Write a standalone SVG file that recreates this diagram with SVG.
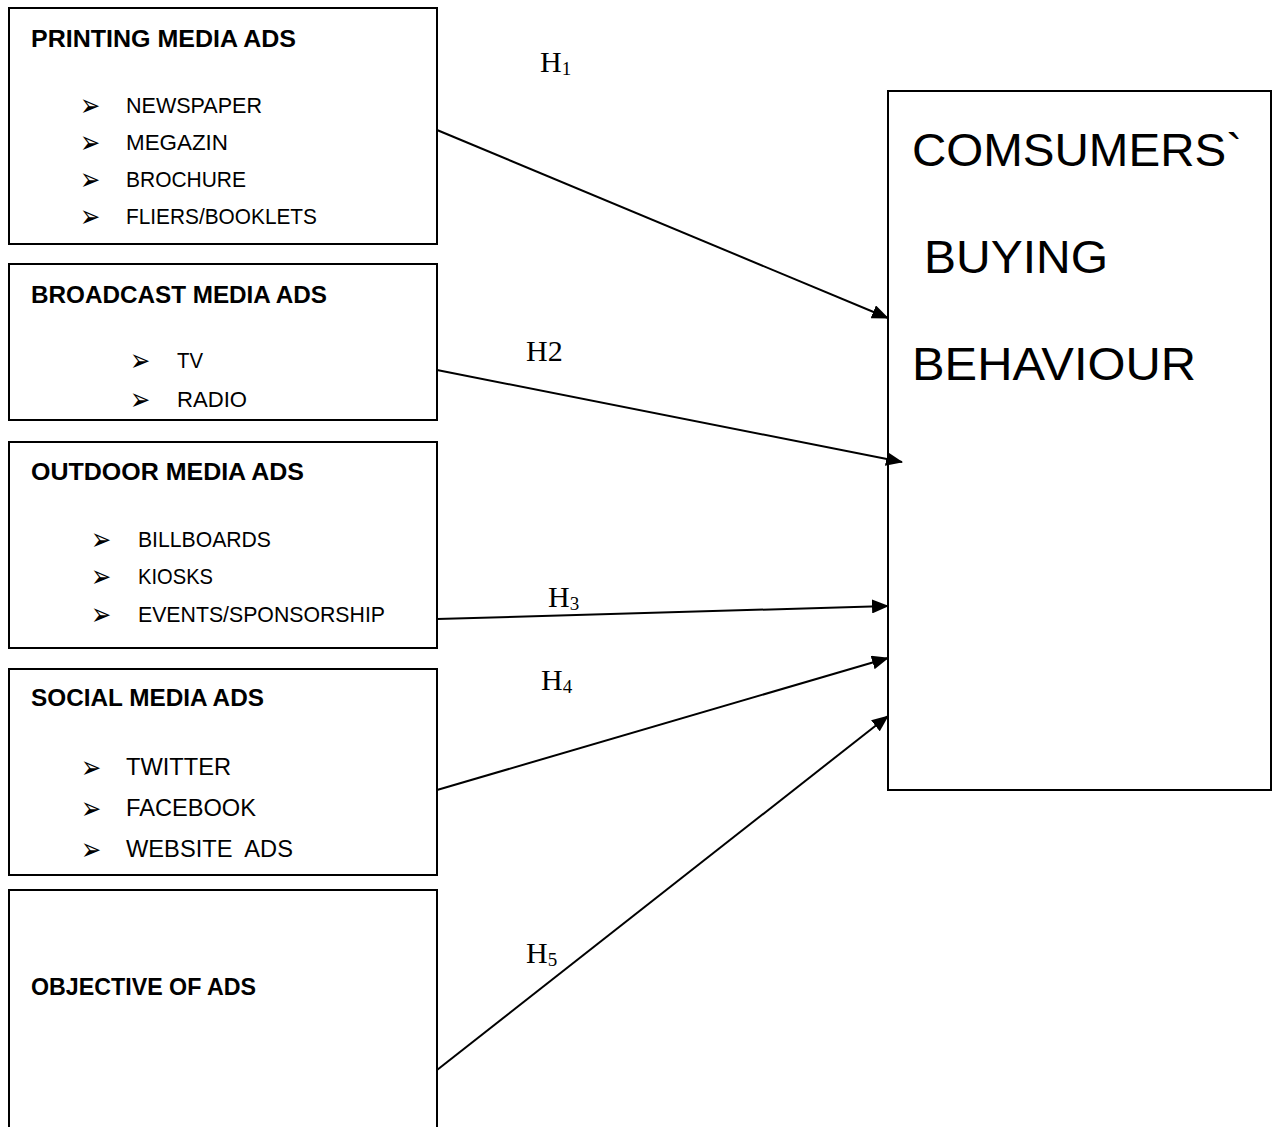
<svg xmlns="http://www.w3.org/2000/svg" width="1278" height="1127" viewBox="0 0 1278 1127">
<defs>
<marker id="ah" markerUnits="userSpaceOnUse" markerWidth="18" markerHeight="14" refX="16" refY="7" orient="auto">
<path d="M0,0 L17,7 L0,14 Z" fill="#000"/>
</marker>
<style>
.box{fill:#fff;stroke:#000;stroke-width:2}
.t{font-family:"Liberation Sans",Arial,sans-serif;font-weight:bold;font-size:24px;fill:#000}
.i{font-family:"Liberation Sans",Arial,sans-serif;font-size:21.5px;fill:#000}
.i2{font-family:"Liberation Sans",Arial,sans-serif;font-size:23px;fill:#000}
.b{font-family:"DejaVu Sans",sans-serif;font-size:21px;fill:#000}
.big{font-family:"Liberation Sans",Arial,sans-serif;font-size:46px;fill:#000}
.h{font-family:"Liberation Serif","Times New Roman",serif;font-size:30px;fill:#000}
.c{stroke:#000;stroke-width:2;fill:none;marker-end:url(#ah)}
</style>
</defs>
<rect width="1278" height="1127" fill="#fff"/>
<g id="printing">
<rect class="box" x="9" y="8" width="428" height="236"/>
<text class="t" x="31" y="47" textLength="265" lengthAdjust="spacingAndGlyphs">PRINTING MEDIA ADS</text>
<text class="b" transform="translate(80,116) scale(1.15,1.5)">➢</text><text class="i" x="126" y="113" textLength="136" lengthAdjust="spacingAndGlyphs">NEWSPAPER</text>
<text class="b" transform="translate(80,153) scale(1.15,1.5)">➢</text><text class="i" x="126" y="150" textLength="102" lengthAdjust="spacingAndGlyphs">MEGAZIN</text>
<text class="b" transform="translate(80,190) scale(1.15,1.5)">➢</text><text class="i" x="126" y="187" textLength="120" lengthAdjust="spacingAndGlyphs">BROCHURE</text>
<text class="b" transform="translate(80,227) scale(1.15,1.5)">➢</text><text class="i" x="126" y="224" textLength="191" lengthAdjust="spacingAndGlyphs">FLIERS/BOOKLETS</text>
</g>
<g id="broadcast">
<rect class="box" x="9" y="264" width="428" height="156"/>
<text class="t" x="31" y="303" textLength="296" lengthAdjust="spacingAndGlyphs">BROADCAST MEDIA ADS</text>
<text class="b" transform="translate(130,371) scale(1.15,1.5)">➢</text><text class="i" x="177" y="368" textLength="26" lengthAdjust="spacingAndGlyphs">TV</text>
<text class="b" transform="translate(130,410) scale(1.15,1.5)">➢</text><text class="i" x="177" y="407" textLength="70" lengthAdjust="spacingAndGlyphs">RADIO</text>
</g>
<g id="outdoor">
<rect class="box" x="9" y="442" width="428" height="206"/>
<text class="t" x="31" y="480" textLength="273" lengthAdjust="spacingAndGlyphs">OUTDOOR MEDIA ADS</text>
<text class="b" transform="translate(91,550) scale(1.15,1.5)">➢</text><text class="i" x="138" y="547" textLength="133" lengthAdjust="spacingAndGlyphs">BILLBOARDS</text>
<text class="b" transform="translate(91,587) scale(1.15,1.5)">➢</text><text class="i" x="138" y="584" textLength="75" lengthAdjust="spacingAndGlyphs">KIOSKS</text>
<text class="b" transform="translate(91,625) scale(1.15,1.5)">➢</text><text class="i" x="138" y="622" textLength="247" lengthAdjust="spacingAndGlyphs">EVENTS/SPONSORSHIP</text>
</g>
<g id="social">
<rect class="box" x="9" y="669" width="428" height="206"/>
<text class="t" x="31" y="706" textLength="233" lengthAdjust="spacingAndGlyphs">SOCIAL MEDIA ADS</text>
<text class="b" transform="translate(81,778) scale(1.15,1.5)">➢</text><text class="i2" x="126" y="775" textLength="105" lengthAdjust="spacingAndGlyphs">TWITTER</text>
<text class="b" transform="translate(81,819) scale(1.15,1.5)">➢</text><text class="i2" x="126" y="816" textLength="130" lengthAdjust="spacingAndGlyphs">FACEBOOK</text>
<text class="b" transform="translate(81,860) scale(1.15,1.5)">➢</text><text class="i2" x="126" y="857" textLength="167" lengthAdjust="spacingAndGlyphs" xml:space="preserve">WEBSITE  ADS</text>
</g>
<g id="objective">
<rect class="box" x="9" y="890" width="428" height="250"/>
<text class="t" x="31" y="995" textLength="225" lengthAdjust="spacingAndGlyphs">OBJECTIVE OF ADS</text>
</g>
<g id="consumer">
<rect class="box" x="888" y="91" width="383" height="699"/>
<text class="big" x="912" y="166" textLength="330" lengthAdjust="spacingAndGlyphs">COMSUMERS`</text>
<text class="big" x="924" y="273" textLength="184" lengthAdjust="spacingAndGlyphs">BUYING</text>
<text class="big" x="912" y="380" textLength="284" lengthAdjust="spacingAndGlyphs">BEHAVIOUR</text>
</g>
<g id="connectors">
<line class="c" x1="437" y1="130" x2="888" y2="318"/>
<line class="c" x1="437" y1="370" x2="902" y2="462"/>
<line class="c" x1="437" y1="619" x2="888" y2="606"/>
<line class="c" x1="437" y1="790" x2="888" y2="658"/>
<line class="c" x1="437" y1="1070" x2="888" y2="716"/>
</g>
<g id="labels">
<text class="h" x="540" y="72">H<tspan font-size="19" dy="3">1</tspan></text>
<text class="h" x="526" y="361">H2</text>
<text class="h" x="548" y="607">H<tspan font-size="19" dy="3">3</tspan></text>
<text class="h" x="541" y="690">H<tspan font-size="19" dy="3">4</tspan></text>
<text class="h" x="526" y="963">H<tspan font-size="19" dy="3">5</tspan></text>
</g>
</svg>
